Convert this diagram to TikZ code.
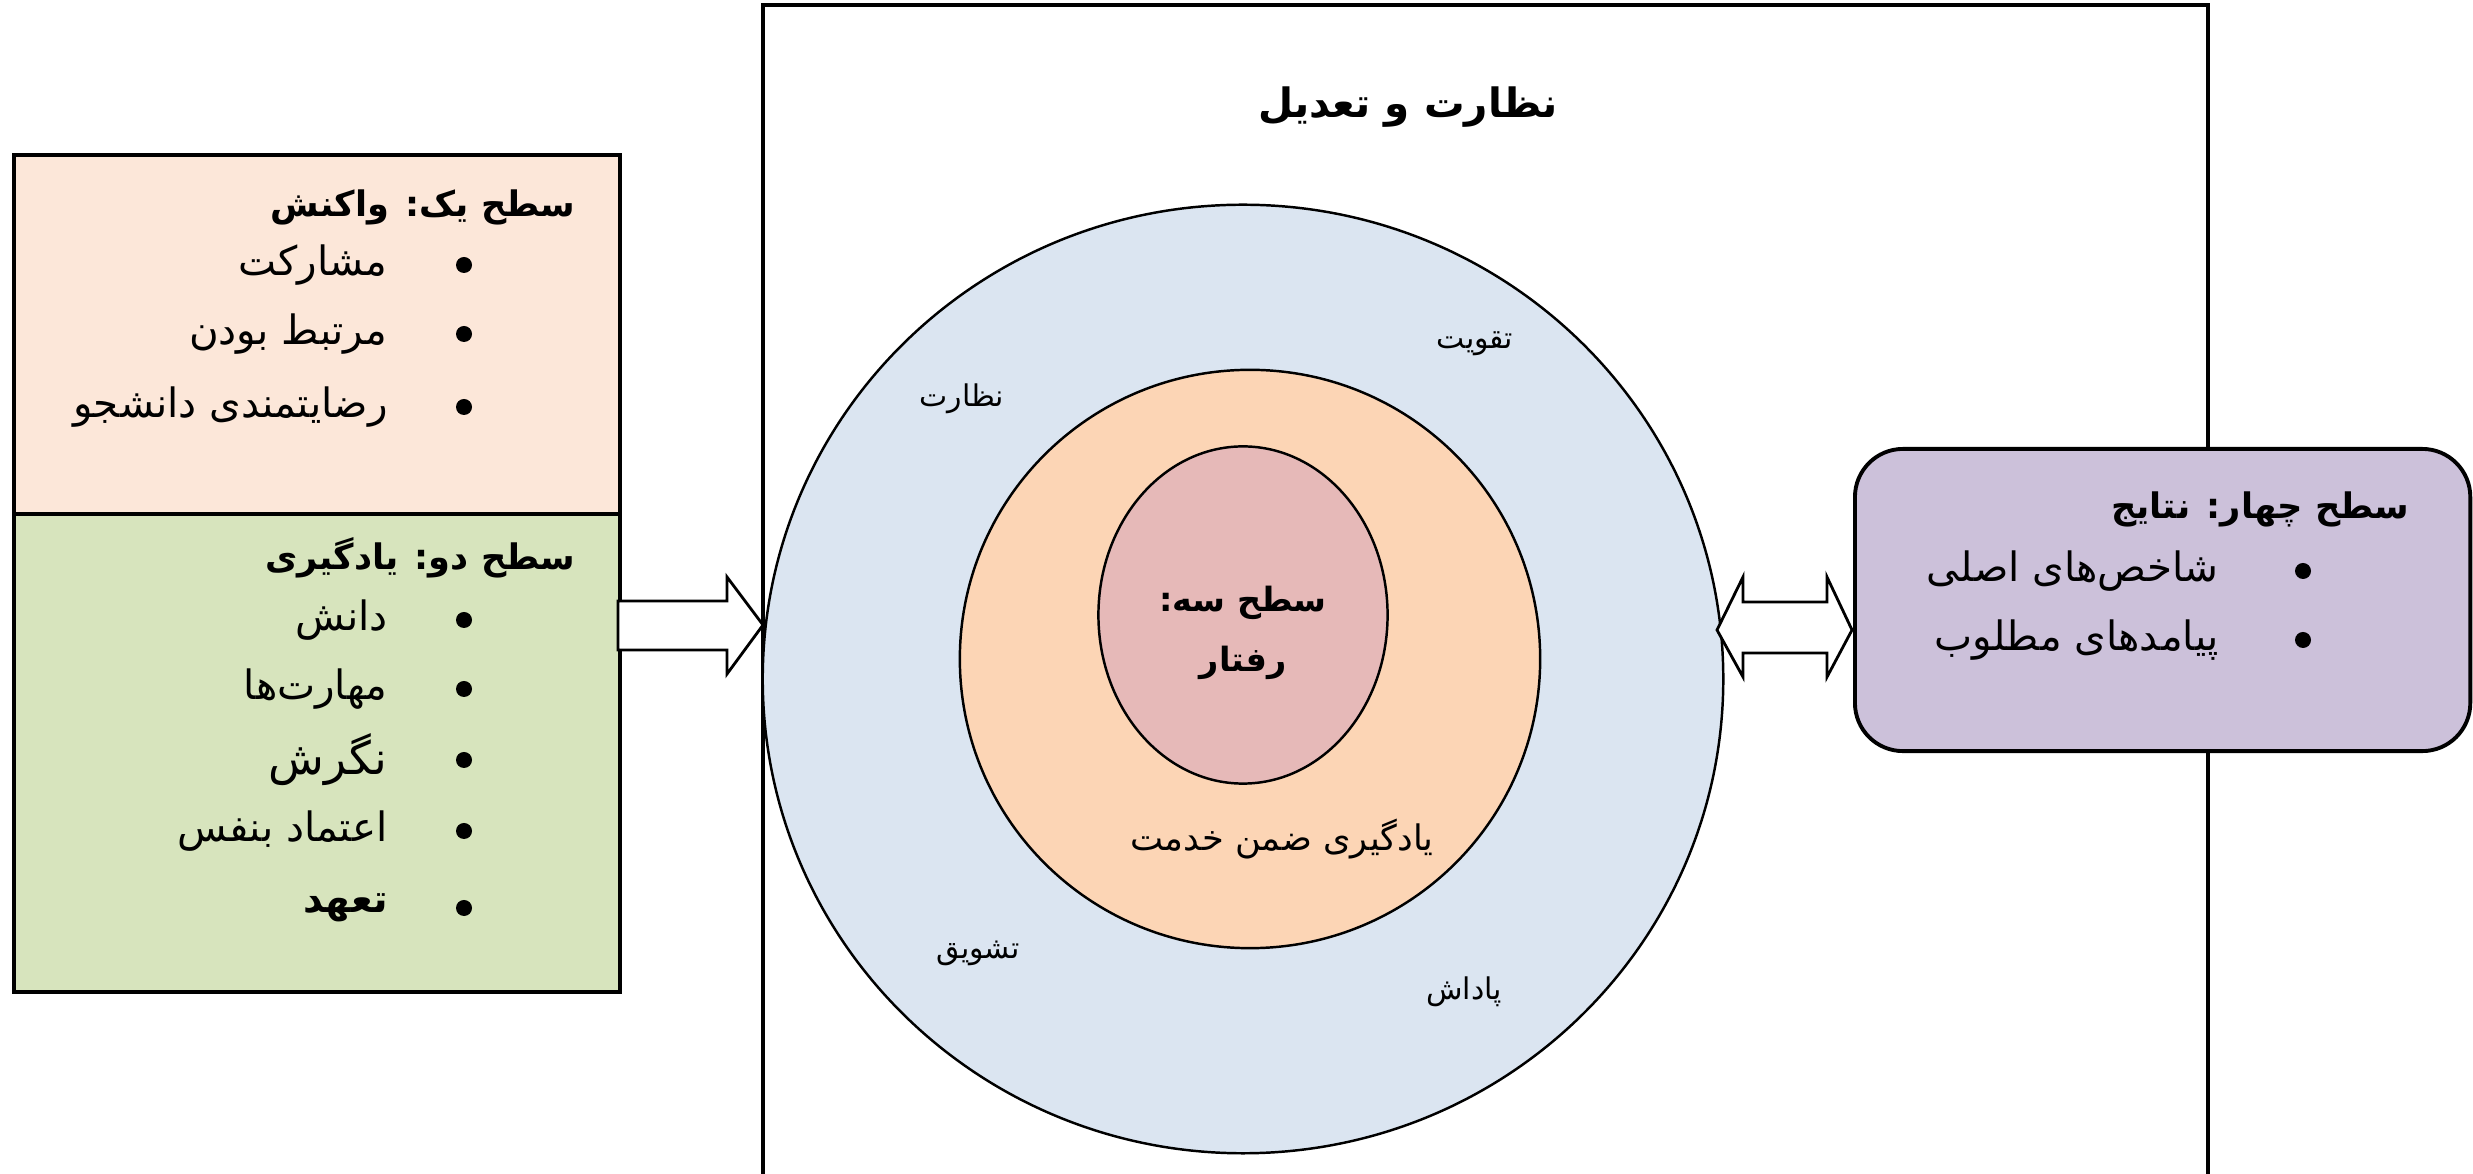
\documentclass[tikz,border=0pt]{standalone}
\usepackage{fontspec}
\newfontfamily\fa[Script=Arabic]{DejaVu Sans}
\TeXXeTstate=1
\usepackage{tikz}
\usetikzlibrary{shapes.geometric, shapes, positioning, calc}
\definecolor{reactbg}{HTML}{FCE7D9}
\definecolor{learnbg}{HTML}{D7E4BD}
\definecolor{ringbg}{HTML}{DBE5F1}
\definecolor{midbg}{HTML}{FCD5B5}
\definecolor{corebg}{HTML}{E6B9B8}
\definecolor{resultbg}{HTML}{CCC1DA}
\tikzstyle{levelbox} = [rectangle, draw = black, line width = 1.1pt, minimum width = 6.06cm, anchor = north west]
\tikzstyle{ring} = [ellipse, draw = black, line width = 0.7pt, inner sep = 0pt]
\tikzstyle{dot} = [circle, fill = black, inner sep = 0pt, minimum size = 0.16cm]
\tikzstyle{item} = [inner sep = 0pt, font = \fa\fontsize{11.5}{14}\selectfont]
\tikzstyle{head} = [inner sep = 0pt, anchor = east, font = \fa\bfseries\fontsize{10}{12}\selectfont]
\tikzstyle{small} = [inner sep = 0pt, font = \fa\fontsize{8.5}{10}\selectfont]
\tikzstyle{fatarrow} = [draw = black, fill = white, line width = 0.8pt, line join = miter]

\begin{document}
\begin{tikzpicture}[x = 0.01cm, y = -0.01cm]
\useasboundingbox (0,0) rectangle (2473,1174);
\node (react) [levelbox, fill = reactbg, minimum height = 3.59cm] at (12,153) {};
\node (learn) [levelbox, fill = learnbg, minimum height = 4.78cm] at (12,512) {};
\node (reacthead) [head] at (576,207) {\beginR سطح یک: واکنش\endR};
\node (r1) [dot] at (464,265) {};
\node (r2) [dot] at (464,334) {};
\node (r3) [dot] at (464,407) {};
\node (r1t) [item, left = 0.67cm of r1] {\beginR مشارکت\endR};
\node (r2t) [item, left = 0.67cm of r2] {\beginR مرتبط بودن\endR};
\node (r3t) [item, left = 0.67cm of r3] {\beginR رضایتمندی دانشجو\endR};
\node (learnhead) [head] at (576,558) {\beginR سطح دو: یادگیری\endR};
\node (l1) [dot] at (464,620) {};
\node (l2) [dot] at (464,689) {};
\node (l3) [dot] at (464,760) {};
\node (l4) [dot] at (464,831) {};
\node (l5) [dot] at (464,908) {};
\node (l1t) [item, left = 0.67cm of l1] {\beginR دانش\endR};
\node (l2t) [item, left = 0.67cm of l2] {\beginR مهارت‌ها\endR};
\node (l3t) [item, left = 0.67cm of l3, font = \fa\fontsize{13}{15}\selectfont] {\beginR نگرش\endR};
\node (l4t) [item, left = 0.67cm of l4] {\beginR اعتماد بنفس\endR};
\node (l5t) [item, left = 0.67cm of l5, font = \fa\bfseries\fontsize{11}{14}\selectfont] {\beginR تعهد\endR};
\draw[line width = 1.1pt] (763,1190) -- (763,5) -- (2208,5) -- (2208,1190);
\node (title) [head, anchor = center, font = \fa\bfseries\fontsize{11.5}{14}\selectfont] at (1408,107) {\beginR نظارت و تعدیل\endR};
\node (outer) [ring, fill = ringbg, minimum width = 9.6cm, minimum height = 9.48cm] at (1243,679) {};
\node (middle) [ring, fill = midbg, minimum width = 5.8cm, minimum height = 5.78cm] at (1250,659) {};
\node (core) [ring, fill = corebg, minimum width = 2.89cm, minimum height = 3.37cm] at (1243,615) {};
\node (coretext) [inner sep = 0pt, align = center, font = \fa\bfseries\fontsize{9.5}{17}\selectfont] at (1243,633) {\beginR سطح سه:\endR\\\beginR رفتار\endR};
\node (service) [small, font = \fa\fontsize{10}{12}\selectfont] at (1282,839) {\beginR یادگیری ضمن خدمت\endR};
\node (watch) [small] at (962,399) {\beginR نظارت\endR};
\node (boost) [small] at (1475,344) {\beginR تقویت\endR};
\node (cheer) [small] at (978,953) {\beginR تشویق\endR};
\node (reward) [small] at (1464,992) {\beginR پاداش\endR};
\node (result) [rectangle, rounded corners = 0.48cm, draw = black, line width = 1.1pt, fill = resultbg, minimum width = 6.15cm, minimum height = 3.02cm, anchor = north west] at (1853,447) {};
\node (resulthead) [head] at (2410,509) {\beginR سطح چهار: نتایج\endR};
\node (s1) [dot] at (2303,571) {};
\node (s2) [dot] at (2303,640) {};
\node (s1t) [item, left = 0.75cm of s1] {\beginR شاخص‌های اصلی\endR};
\node (s2t) [item, left = 0.75cm of s2] {\beginR پیامدهای مطلوب\endR};
\coordinate (inTip) at (763,625);
\coordinate (linkTip) at (1717,630);
\draw[fatarrow] (inTip) -- ++(-36,-48) -- ++(0,24) -- ++(-109,0) -- ++(0,49) -- ++(109,0) -- ++(0,24) -- cycle;
\draw[fatarrow] (linkTip) -- ++(26,-53) -- ++(0,25) -- ++(84,0) -- ++(0,-25) -- ++(25,53) -- ++(-25,47) -- ++(0,-24) -- ++(-84,0) -- ++(0,24) -- cycle;
\end{tikzpicture}
\end{document}
